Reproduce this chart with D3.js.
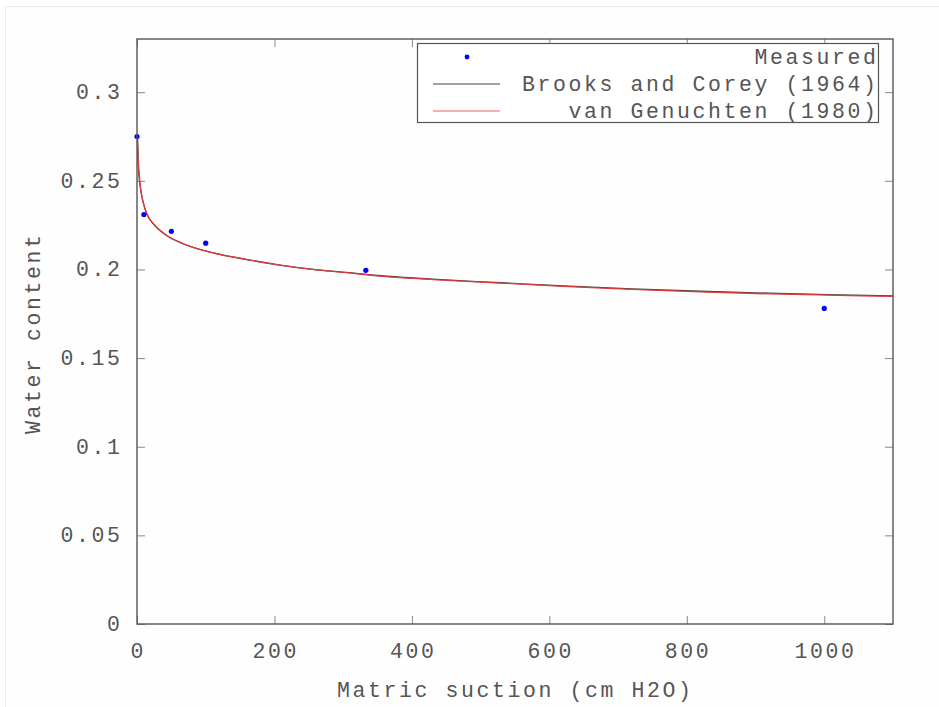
<!DOCTYPE html>
<html><head><meta charset="utf-8">
<script src="https://cdn.jsdelivr.net/npm/d3@7/dist/d3.min.js"></script>
<style>
html,body{margin:0;padding:0;background:#fff;}
svg{display:block;}
text{font-family:"Liberation Mono","DejaVu Sans Mono",monospace;fill:#555;}
</style></head>
<body><svg id="chart" width="939" height="707"></svg>
<script>
// ---- data ----
const measuredSuction = [0, 10, 50, 100, 333, 1000];
const measuredTheta   = [0.275, 0.231, 0.2215, 0.2148, 0.1995, 0.178];

const bcSuction = [0, 0.8, 2, 5, 9, 14, 26, 43, 67, 111, 160, 208, 256, 305, 350, 430, 530, 620, 720, 820, 920, 1020, 1100];
const bcTheta   = [0.275, 0.275, 0.258, 0.246, 0.2378, 0.2315, 0.2248, 0.2192, 0.2145, 0.2093, 0.2056, 0.2025, 0.2001, 0.1983, 0.1966, 0.1945, 0.1925, 0.1907, 0.1890, 0.1877, 0.1866, 0.1857, 0.1851];

const vgSuction = [0, 1.5, 4.5, 9, 14, 26, 43, 67, 111, 160, 208, 256, 305, 350, 430, 530, 620, 720, 820, 920, 1020, 1100];
const vgTheta   = [0.275, 0.263, 0.248, 0.238, 0.2317, 0.225, 0.2193, 0.2146, 0.2093, 0.2056, 0.2024, 0.2000, 0.1982, 0.1964, 0.1943, 0.1923, 0.1905, 0.1888, 0.1874, 0.1862, 0.1854, 0.1848];

const xTicks = [0, 200, 400, 600, 800, 1000];
const yTicks = [0, 0.05, 0.1, 0.15, 0.2, 0.25, 0.3];
const seriesNames = ["Measured", "Brooks and Corey (1964)", "van Genuchten (1980)"];
const xTitle = "Matric suction (cm H2O)";
const yTitle = "Water content";

// ---- layout ----
const L = 137, R = 893, T = 39, B = 624;
const LS = 2.6; // letter spacing
const font = 21.5;
const svg = d3.select("#chart");

svg.append("rect").attr("x",5.5).attr("y",6.5).attr("width",1000).attr("height",1000)
  .attr("fill","#fefefe").attr("stroke","#f3e4e4").attr("stroke-width",1);

const x = d3.scaleLinear().domain([0,1100]).range([L,R]);
const y = d3.scaleLinear().domain([0,0.33]).range([B,T]);

const g = svg.append("g");

// ticks (inside, mirrored)
const tk = 8;
const axB = g.append("g").attr("transform",`translate(0,${B})`)
  .call(d3.axisTop(x).tickValues(xTicks).tickSize(tk).tickFormat(""));
const axT = g.append("g").attr("transform",`translate(0,${T})`)
  .call(d3.axisBottom(x).tickValues(xTicks).tickSize(tk).tickFormat(""));
const axL = g.append("g").attr("transform",`translate(${L},0)`)
  .call(d3.axisRight(y).tickValues(yTicks).tickSize(tk).tickFormat(""));
const axR = g.append("g").attr("transform",`translate(${R},0)`)
  .call(d3.axisLeft(y).tickValues(yTicks).tickSize(tk).tickFormat(""));
[axB,axT,axL,axR].forEach(a=>{
  a.select(".domain").remove();
  a.selectAll("line").attr("stroke","#888").attr("stroke-width",1);
});

// tick labels
g.selectAll(".xl").data(xTicks).enter().append("text")
  .attr("x",d=>x(d)+LS/2).attr("y",658).attr("text-anchor","middle")
  .attr("font-size",font).attr("letter-spacing",LS).text(d=>d);
g.selectAll(".yl").data(yTicks).enter().append("text")
  .attr("x",120+LS).attr("y",d=>y(d)+7).attr("text-anchor","end")
  .attr("font-size",font).attr("letter-spacing",LS).text(d=>d);

// titles
g.append("text").attr("x",514+LS/2).attr("y",697).attr("text-anchor","middle")
  .attr("font-size",font).attr("letter-spacing",LS).text(xTitle);
g.append("text").attr("transform",`translate(40,${332+LS/2}) rotate(-90)`).attr("text-anchor","middle")
  .attr("font-size",font).attr("letter-spacing",LS).text(yTitle);

// clip
svg.append("clipPath").attr("id","clip").append("rect")
  .attr("x",L).attr("y",T).attr("width",R-L).attr("height",B-T);

const line = d3.line().x(d=>x(d[0])).y(d=>y(d[1])).curve(d3.curveMonotoneX);
const bc = bcSuction.map((h,i)=>[h,bcTheta[i]]);
const vg = vgSuction.map((h,i)=>[h,vgTheta[i]]);
const plot = svg.append("g").attr("clip-path","url(#clip)");
plot.append("path").datum(bc).attr("d",line).attr("fill","none").attr("stroke","#444").attr("stroke-width",1.3);
plot.append("path").datum(vg).attr("d",line).attr("fill","none").attr("stroke","#e03a3a").attr("stroke-width",1.3);

// points
svg.selectAll(".pt").data(measuredSuction.map((h,i)=>[h,measuredTheta[i]])).enter().append("circle")
  .attr("cx",d=>x(d[0])).attr("cy",d=>y(d[1])).attr("r",2.6).attr("fill","#0000ff");

// frame
svg.append("rect").attr("x",L).attr("y",T).attr("width",R-L).attr("height",B-T)
  .attr("fill","none").attr("stroke","#555").attr("stroke-width",1.4);

// legend
const lg = svg.append("g");
lg.append("rect").attr("x",417.5).attr("y",43.5).attr("width",461).attr("height",79)
  .attr("fill","#fff").attr("stroke","#555").attr("stroke-width",1.2);
const rows = [57, 84, 111];
lg.append("circle").attr("cx",467).attr("cy",rows[0]).attr("r",2.4).attr("fill","#0000ff");
lg.append("line").attr("x1",433).attr("x2",500).attr("y1",rows[1]).attr("y2",rows[1]).attr("stroke","#444").attr("stroke-width",1.2);
lg.append("line").attr("x1",433).attr("x2",500).attr("y1",rows[2]).attr("y2",rows[2]).attr("stroke","#f06060").attr("stroke-width",1.2);
lg.selectAll(".lt").data(seriesNames).enter().append("text")
  .attr("x",876+LS).attr("y",(d,i)=>rows[i]+7).attr("text-anchor","end")
  .attr("font-size",font).attr("letter-spacing",LS).text(d=>d);
</script></body></html>
